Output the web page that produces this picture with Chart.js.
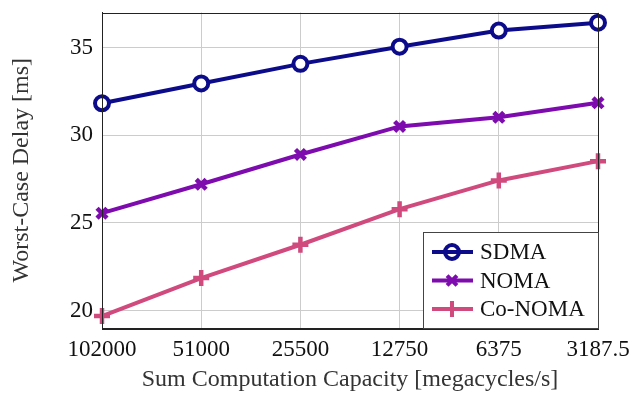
<!DOCTYPE html>
<html><head><meta charset="utf-8">
<script src="https://cdn.jsdelivr.net/npm/chart.js@4/dist/chart.umd.min.js"></script>
<style>html,body{margin:0;padding:0;background:#fff}#wrap{width:634px;height:394px}</style>
</head><body><div id="wrap"><canvas id="c" width="634" height="394"></canvas></div>
<script>
const categories = ['102000','51000','25500','12750','6375','3187.5'];
const sdma = [31.82, 32.95, 34.07, 35.05, 35.97, 36.42];
const noma = [25.55, 27.2, 28.9, 30.5, 31.02, 31.85];
const conoma = [19.68, 21.85, 23.75, 25.78, 27.42, 28.52];
const yTicks = [20, 25, 30, 35];
const seriesNames = ['SDMA','NOMA','Co-NOMA'];

const FONT = 'Liberation Serif';
const TXT = '#111';

const frame = {
  id:'frame',
  afterDatasetsDraw(chart){
    const {ctx, chartArea:a} = chart;
    ctx.save();
    ctx.strokeStyle='#222'; ctx.lineWidth=1;
    ctx.strokeRect(Math.round(a.left)+0.5, Math.round(a.top)+0.5, Math.round(a.right-a.left), Math.round(a.bottom-a.top));
    ctx.restore();
  },
  afterDraw(chart){
    const {ctx, chartArea:a} = chart;
    const w=175, h=96;
    const x0 = a.right - w, y0 = a.bottom - h;
    ctx.save();
    ctx.fillStyle='#fff'; ctx.fillRect(x0,y0,w,h);
    ctx.strokeStyle='#444'; ctx.lineWidth=1;
    ctx.strokeRect(Math.round(x0)+0.5, Math.round(y0)+0.5, w, h);
    chart.data.datasets.forEach((ds,i)=>{
      const cy = y0 + 20 + i*28.5;
      ctx.strokeStyle=ds.borderColor; ctx.lineWidth=4; ctx.lineCap='butt';
      ctx.beginPath(); ctx.moveTo(x0+9, cy); ctx.lineTo(x0+50, cy); ctx.stroke();
      ctx.save();
      ctx.strokeStyle=ds.borderColor;
      ctx.fillStyle = ds.pointStyle==='circle' ? 'rgba(0,0,0,0)' : ds.borderColor;
      Chart.helpers.drawPoint(ctx, {pointStyle: ds.pointStyle, radius: ds.pointRadius, borderWidth: ds.pointBorderWidth, rotation:0}, x0+29, cy);
      ctx.restore();
      ctx.fillStyle=TXT; ctx.font = '23px "'+FONT+'"'; ctx.textBaseline='middle'; ctx.textAlign='left';
      ctx.fillText(ds.label, x0+57, cy+1);
    });
    ctx.restore();
  }
};

function mk(label, data, color, style, r, bw){
  return {label, data, borderColor: color, backgroundColor: color, borderWidth: 4,
    pointStyle: style, pointRadius: r, pointBorderWidth: bw, pointBorderColor: color,
    pointBackgroundColor: style==='circle' ? '#fff' : color, pointHoverRadius: r, tension:0, clip:false};
}

const chart = new Chart(document.getElementById('c'), {
  type:'line',
  data:{labels:categories, datasets:[
    mk(seriesNames[0], sdma, '#0c0c8a', 'circle', 7, 4),
    mk(seriesNames[1], noma, '#7d0bae', 'crossRot', 7, 4.5),
    mk(seriesNames[2], conoma, '#d04a7e', 'cross', 8, 4.5)
  ]},
  options:{
    responsive:false, animation:false, devicePixelRatio:1,
    layout:{padding:{top:12, right:36, left:0, bottom:0}},
    plugins:{legend:{display:false}, tooltip:{enabled:false}},
    scales:{
      x:{
        offset:false,
        grid:{color:'#cccccc', lineWidth:1, drawTicks:false},
        border:{color:'#222'},
        ticks:{color:TXT, font:{family:FONT, size:23}, padding:8, maxRotation:0, autoSkip:false},
        title:{display:true, text:'Sum Computation Capacity [megacycles/s]', color:'#333', font:{family:FONT, size:24}, padding:{top:0, bottom:0}},
        afterFit(s){ s.height = 66; s.paddingLeft = 0; s.paddingRight = 0; }
      },
      y:{
        min:19, max:37,
        afterBuildTicks(s){ s.ticks = yTicks.map(v=>({value:v})); },
        grid:{color:'#cccccc', lineWidth:1, drawTicks:false},
        border:{color:'#222'},
        ticks:{color:TXT, font:{family:FONT, size:23}, padding:9},
        title:{display:true, text:'Worst-Case Delay [ms]', color:'#333', font:{family:FONT, size:24}, padding:{top:7,bottom:0}},
        afterFit(s){ s.width = 102; s.paddingTop = 0; s.paddingBottom = 0; }
      }
    }
  },
  plugins:[frame]
});
</script></body></html>
